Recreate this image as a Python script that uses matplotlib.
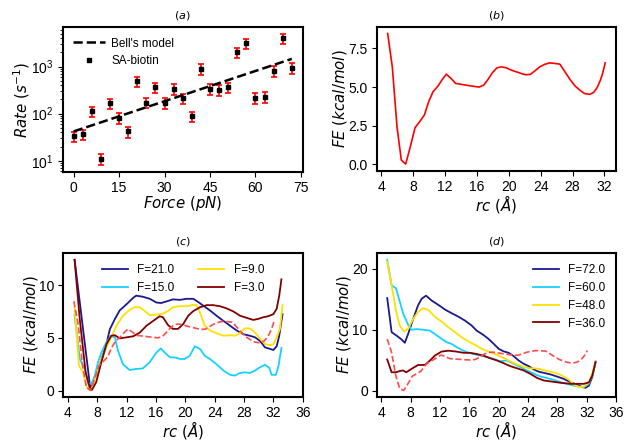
import numpy as np
import matplotlib
matplotlib.use("Agg")
import matplotlib.pyplot as plt

plt.rcParams['font.family'] = ['Liberation Sans', 'DejaVu Sans']
plt.rcParams['mathtext.fontset'] = 'dejavusans'

# (a) rates vs force
force = [0, 3, 6, 9, 12, 15, 18, 21, 24, 27, 30, 33, 36, 39, 42, 45, 48, 51, 54, 57, 60, 63, 66, 69, 72]
rate = [33, 37, 113, 11, 165, 81, 42, 485, 172, 360, 169, 338, 213, 88, 890,
        338, 316, 360, 2000, 3100, 217, 228, 807, 4000, 930]
rate_err = [8, 9, 28, 3, 40, 20, 11, 120, 43, 90, 42, 85, 53, 22, 220,
            85, 80, 90, 500, 780, 55, 57, 200, 1000, 230]
bell_force = [0, 72]
bell_rate = [42, 1450]

# (b) free energy profile at F=0
rc0 = [4.8, 5.38, 5.97, 6.51, 7.06, 7.64, 8.23, 8.81, 9.4, 9.94, 10.49, 11.1, 11.66, 12.16,
       12.75, 13.33, 13.92, 15.09, 16.26, 16.85, 17.4, 17.94, 18.52, 19.07, 19.7, 20.3,
       20.95, 21.58, 22.1, 22.7, 23.3, 23.88, 24.5, 25.1, 25.77, 26.4, 27.0, 27.65,
       28.28, 28.9, 29.5, 30.16, 30.66, 31.08, 31.5, 31.8, 32.1]
fe0 = [8.47, 6.31, 2.44, 0.28, 0.02, 1.14, 2.37, 2.76, 3.19, 4.05, 4.70, 5.06, 5.50, 5.84,
       5.56, 5.24, 5.19, 5.09, 5.0, 5.13, 5.50, 5.93, 6.25, 6.31, 6.25, 6.1,
       5.99, 5.88, 5.80, 5.82, 6.06, 6.31, 6.47, 6.57, 6.53, 6.49, 6.03, 5.52,
       5.09, 4.81, 4.59, 4.53, 4.66, 4.96, 5.45, 5.93, 6.57]

# (c) low forces
rc_f21 = [4.9, 7.05, 8.3, 9.2, 9.7, 10.4, 11.05, 12.0, 12.9, 13.3, 14.2, 15.15, 16.05, 16.7,
          17.65, 18.3, 19.25, 20.15, 21.1, 21.75, 22.45, 23.35, 24.25, 25.2, 26.1, 27.0,
          27.9, 28.8, 29.5, 30.2, 30.85, 31.55, 32.0, 32.45, 32.8, 33.25]
fe_f21 = [12.4, 0.15, 2.4, 4.3, 5.8, 6.8, 7.6, 8.2, 8.8, 9.0, 8.9, 8.7, 8.35, 8.3,
          8.5, 8.65, 8.6, 8.7, 8.7, 8.4, 8.05, 7.6, 7.1, 6.6, 6.15, 5.7,
          5.35, 5.2, 5.05, 4.7, 4.1, 3.95, 3.85, 4.2, 5.2, 7.25]
rc_f15 = [4.9, 5.6, 6.3, 6.75, 7.2, 7.65, 8.1, 8.55, 9.25, 9.9, 10.4, 10.8, 11.5, 12.4, 13.3,
          14.2, 15.15, 16.05, 16.65, 17.2, 17.9, 18.55, 19.25, 19.9, 20.6, 21.3, 22.0, 22.65,
          23.35, 24.25, 25.2, 26.1, 26.75, 27.45, 28.1, 28.8, 29.5, 30.15, 30.85, 31.45,
          31.75, 32.35, 32.7, 33.1]
fe_f15 = [7.15, 3.0, 2.05, 0.7, 0.63, 1.4, 2.7, 3.6, 4.6, 5.2, 5.05, 3.8, 2.5, 1.95, 2.05,
          2.1, 2.7, 3.6, 4.0, 3.6, 3.15, 3.15, 3.0, 3.0, 3.3, 4.2, 3.95, 3.3,
          3.0, 2.5, 1.9, 1.5, 1.42, 1.67, 1.73, 1.67, 1.9, 2.2, 2.45, 2.15,
          1.5, 1.5, 2.35, 4.05]
rc_f9 = [4.9, 5.5, 6.05, 6.6, 7.2, 7.85, 8.55, 9.25, 9.9, 10.6, 11.5, 12.4, 13.1, 13.8, 14.45,
         15.15, 16.05, 16.95, 17.65, 18.3, 19.25, 20.15, 20.85, 21.5, 22.0, 22.65, 23.35,
         24.25, 25.2, 26.1, 26.75, 27.45, 28.1, 28.8, 29.5, 30.15, 30.85, 31.55, 32.0,
         32.45, 32.9, 33.25]
fe_f9 = [7.9, 2.35, 1.75, 0.3, 0.15, 1.4, 3.0, 4.1, 5.05, 6.15, 7.1, 7.65, 7.9, 7.9, 7.55,
         7.15, 7.2, 7.3, 7.55, 7.9, 8.0, 8.0, 8.1, 8.15, 7.4, 6.15, 5.7,
         5.45, 5.2, 5.25, 5.2, 5.45, 5.9, 5.9, 5.5, 4.95, 4.4, 4.3, 4.4,
         5.05, 5.85, 8.1]
rc_f3 = [4.9, 5.6, 6.4, 6.95, 7.25, 7.85, 8.55, 9.25, 9.9, 10.4, 11.05, 12.0, 12.9, 13.8,
         14.7, 15.6, 16.5, 16.95, 17.65, 18.3, 19.0, 19.7, 20.4, 21.1, 22.0, 22.9, 23.8,
         24.7, 25.6, 26.55, 27.45, 28.35, 29.25, 29.95, 30.6, 31.3, 32.0, 32.45, 32.8, 33.1]
fe_f3 = [12.4, 6.8, 1.75, 0.3, 0.05, 0.8, 2.7, 4.4, 5.2, 5.25, 4.95, 5.05, 5.15, 5.5,
         6.15, 6.6, 7.05, 6.95, 6.2, 5.85, 5.85, 6.3, 7.1, 7.55, 7.9, 8.1, 8.1,
         8.0, 7.8, 7.5, 7.1, 6.9, 6.7, 6.8, 6.95, 7.05, 7.25, 7.75, 9.0, 10.55]

# (d) high forces
rc_f72 = [4.8, 5.4, 6.05, 6.75, 7.2, 7.65, 8.35, 9.0, 9.5, 10.1, 10.85, 11.75, 12.7, 13.6,
          14.5, 15.4, 16.3, 17.0, 17.9, 18.6, 19.3, 20.0, 20.65, 21.35, 22.05, 22.7, 23.4,
          24.1, 24.8, 25.45, 26.15, 27.05, 27.95, 28.9, 29.8, 30.7, 31.4, 31.85, 32.3,
          32.75, 33.2]
fe_f72 = [15.2, 9.6, 9.05, 8.4, 7.85, 9.3, 11.8, 14.0, 15.1, 15.6, 14.8, 14.1, 13.3, 12.7,
          12.15, 11.5, 10.7, 9.85, 9.15, 8.5, 7.7, 6.85, 6.45, 6.2, 5.65, 4.95, 4.4,
          4.0, 3.45, 3.1, 2.9, 2.65, 2.3, 1.9, 1.35, 0.95, 0.55, 0.45, 0.8,
          2.2, 4.75]
rc_f60 = [4.8, 5.4, 6.0, 6.4, 7.0, 7.65, 8.1, 8.8, 9.7, 10.6, 11.3, 12.2, 12.9, 13.6, 14.3,
          14.95, 15.65, 16.55, 17.5, 18.4, 19.3, 20.2, 21.1, 22.05, 22.95, 23.85, 24.8,
          25.7, 26.6, 27.5, 28.45, 29.35, 30.25, 30.95, 31.6, 32.3, 32.75, 33.2]
fe_f60 = [21.5, 17.3, 16.8, 15.1, 12.6, 10.8, 10.0, 10.1, 10.0, 9.85, 9.3, 8.5, 7.95, 7.65, 7.1,
          6.7, 6.3, 6.0, 5.75, 5.5, 5.2, 4.8, 4.95, 4.4, 3.85, 3.3, 2.75,
          2.3, 2.05, 1.75, 1.35, 1.1, 0.8, 0.65, 0.55, 1.1, 2.45, 4.55]
rc_f48 = [4.8, 5.4, 6.0, 6.5, 7.1, 7.65, 8.35, 9.0, 9.7, 10.4, 11.3, 12.2, 13.15, 14.05,
          14.95, 15.9, 16.8, 17.7, 18.6, 19.5, 20.45, 21.35, 22.25, 23.2, 24.1, 25.0, 25.9,
          26.85, 27.75, 28.65, 29.55, 30.25, 30.95, 31.6, 32.3, 32.75, 33.2]
fe_f48 = [21.2, 17.3, 13.15, 10.7, 9.7, 10.15, 11.8, 12.9, 13.55, 13.25, 12.15, 11.35, 10.4, 9.6,
          8.75, 8.05, 7.5, 6.85, 6.4, 6.0, 5.5, 4.95, 4.4, 4.0, 3.65, 3.65, 3.45,
          3.1, 2.9, 2.45, 1.8, 1.0, 0.55, 0.65, 1.35, 2.75, 4.65]
rc_f36 = [4.8, 5.4, 6.0, 6.5, 6.95, 7.4, 8.1, 9.0, 9.95, 10.6, 11.3, 12.2, 13.15, 14.25,
          15.2, 16.1, 17.0, 17.9, 18.85, 19.75, 20.65, 21.6, 22.5, 23.4, 24.3, 25.25, 26.15,
          27.05, 27.95, 28.9, 29.8, 30.7, 31.6, 32.3, 32.75, 33.2]
fe_f36 = [5.1, 3.0, 3.0, 3.2, 3.3, 3.0, 3.55, 4.2, 4.2, 4.9, 5.75, 6.4, 6.55, 6.4,
          6.2, 6.2, 6.0, 5.75, 5.3, 4.95, 4.5, 4.0, 3.65, 3.3, 2.75, 2.05, 1.65,
          1.5, 1.35, 1.2, 1.1, 1.1, 1.1, 1.35, 2.45, 4.65]

navy = '#1a1a8e'
cyan = '#14d2ff'
yellow = '#ffe000'
maroon = '#800000'
ref_red = '#ff4b4b'

fig = plt.figure(figsize=(6.28, 4.42), dpi=100)
ax_a = fig.add_axes([0.100, 0.611, 0.382, 0.328])
ax_b = fig.add_axes([0.600, 0.614, 0.381, 0.325])
ax_c = fig.add_axes([0.101, 0.102, 0.381, 0.325])
ax_d = fig.add_axes([0.600, 0.102, 0.381, 0.325])

label_kw = dict(fontsize=10.8, labelpad=-0.5)

# panel a
ax_a.errorbar(force, rate, yerr=rate_err, fmt='none', ecolor='red', elinewidth=1.2,
              capsize=2.5, capthick=1.2)
ax_a.plot(bell_force, bell_rate, '--', color='black', lw=1.8, label="Bell's model")
ax_a.plot(force, rate, 's', color='black', ms=3, label='SA-biotin')
ax_a.set_yscale('log')
ax_a.set_xticks(np.arange(0, 76, 15))
ax_a.set_xlabel(r'$Force\ (pN)$', **label_kw)
ax_a.set_ylabel(r'$Rate\ (s^{-1})$', **label_kw)
ax_a.set_title(r'$(a)$', fontsize=8)
ax_a.legend(loc='upper left', frameon=False, fontsize=8.5, handlelength=2.7,
            handletextpad=0.5)

# panel b
ax_b.plot(rc0, fe0, color='red', lw=1.2)
ax_b.set_xticks(np.arange(4, 33, 4))
ax_b.set_yticks([0.0, 2.5, 5.0, 7.5])
ax_b.set_xlabel(r'$rc\ (\AA)$', **label_kw)
ax_b.set_ylabel(r'$FE\ (kcal/mol)$', **label_kw)
ax_b.set_title(r'$(b)$', fontsize=8)

# panel c
ax_c.plot(rc_f21, fe_f21, color=navy, lw=1.3, label='F=21.0')
ax_c.plot(rc_f15, fe_f15, color=cyan, lw=1.3, label='F=15.0')
ax_c.plot(rc_f9, fe_f9, color=yellow, lw=1.3, label='F=9.0')
ax_c.plot(rc_f3, fe_f3, color=maroon, lw=1.3, label='F=3.0')
ax_c.plot(rc0, fe0, '--', color=ref_red, lw=1.2)
ax_c.set_xticks(np.arange(4, 37, 4))
ax_c.set_yticks([0, 5, 10])
ax_c.set_xlabel(r'$rc\ (\AA)$', **label_kw)
ax_c.set_ylabel(r'$FE\ (kcal/mol)$', **label_kw)
ax_c.set_title(r'$(c)$', fontsize=8)
ax_c.legend(loc='upper center', ncol=2, frameon=False, fontsize=8.5, handlelength=2.2,
            columnspacing=2.0)

# panel d
ax_d.plot(rc_f72, fe_f72, color=navy, lw=1.3, label='F=72.0')
ax_d.plot(rc_f60, fe_f60, color=cyan, lw=1.3, label='F=60.0')
ax_d.plot(rc_f48, fe_f48, color=yellow, lw=1.3, label='F=48.0')
ax_d.plot(rc_f36, fe_f36, color=maroon, lw=1.3, label='F=36.0')
ax_d.plot(rc0, fe0, '--', color=ref_red, lw=1.2)
ax_d.set_xticks(np.arange(4, 37, 4))
ax_d.set_yticks([0, 10, 20])
ax_d.set_xlabel(r'$rc\ (\AA)$', **label_kw)
ax_d.set_ylabel(r'$FE\ (kcal/mol)$', **label_kw)
ax_d.set_title(r'$(d)$', fontsize=8)
ax_d.legend(loc='upper right', frameon=False, fontsize=8.5, handlelength=2.2)

for ax in (ax_a, ax_b, ax_c, ax_d):
    for sp in ax.spines.values():
        sp.set_linewidth(1.5)
    ax.tick_params(labelsize=10, pad=3)

fig.savefig('out.png', dpi=100)
